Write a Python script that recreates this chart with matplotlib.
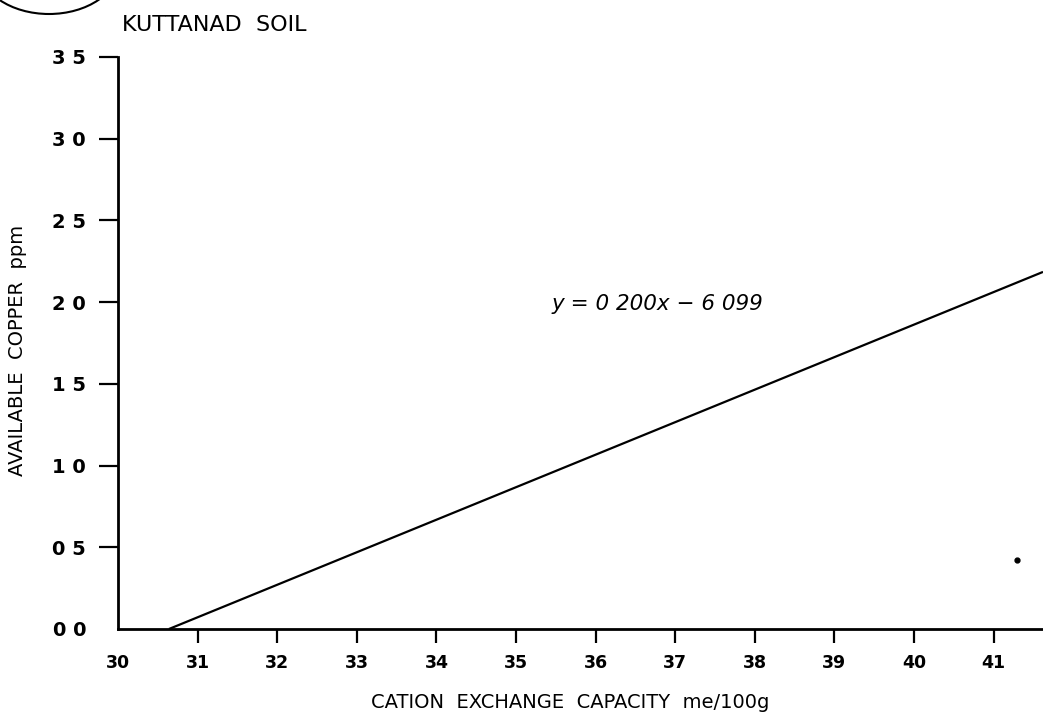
import matplotlib
matplotlib.use("Agg")
import matplotlib.pyplot as plt
from matplotlib.patches import Circle

# regression line end points (x = CEC, y = Cu ppm)
line_x = [30.64, 41.62]
line_y = [0.0, 2.185]

# the lone dot near the right edge
dot_x = [41.29]
dot_y = [0.42]

x_ticks = [30, 31, 32, 33, 34, 35, 36, 37, 38, 39, 40, 41]
x_labels = ["30", "31", "32", "33", "34", "35", "36", "37", "38", "39", "40", "41"]
y_ticks = [0.0, 0.5, 1.0, 1.5, 2.0, 2.5, 3.0, 3.5]
y_labels = ["0 0", "0 5", "1 0", "1 5", "2 0", "2 5", "3 0", "3 5"]

W, H = 1043, 716
fig = plt.figure(figsize=(W / 100, H / 100), dpi=100)
ax = fig.add_axes([118 / W, 1 - 629 / H, 1 - 118 / W, (629 - 57) / H])

ax.plot(line_x, line_y, color="black", lw=1.6, solid_capstyle="butt")
ax.plot(dot_x, dot_y, "o", color="black", ms=3.5)

ax.set_xlim(30, 41.62)
ax.set_ylim(0, 3.5)
for s in ["top", "right"]:
    ax.spines[s].set_visible(False)
for s in ["left", "bottom"]:
    ax.spines[s].set_linewidth(2.0)
    ax.spines[s].set_color("black")

ax.set_xticks(x_ticks)
ax.set_xticklabels(x_labels, fontsize=12.5, fontweight="bold")
ax.set_yticks(y_ticks)
ax.set_yticklabels(y_labels, fontsize=14, fontweight="bold")
ax.tick_params(axis="x", direction="out", length=10, width=1.6, pad=8)
ax.tick_params(axis="y", direction="out", length=14, width=1.6, pad=9)
ax.xaxis.get_major_ticks()[0].tick1line.set_visible(False)
ax.yaxis.get_major_ticks()[0].tick1line.set_visible(False)

ax.text(35.45, 1.99, "y = 0 200x − 6 099", fontsize=15.5, ha="left", va="center",
        style="italic")

fig.text(122 / W, 1 - 25 / H, "KUTTANAD  SOIL", fontsize=16, ha="left", va="center")
fig.text(570 / W, 1 - 702 / H, "CATION  EXCHANGE  CAPACITY  me/100g", fontsize=14,
         ha="center", va="center")
fig.text(18 / W, 1 - 350 / H, "AVAILABLE  COPPER  ppm", fontsize=14, rotation=90,
         ha="center", va="center")

# circled figure number, cut off at the top edge of the page
fig.add_artist(Circle((49 / W, 1 + 34 / H), 48 / H, transform=fig.transFigure,
                      fill=False, lw=1.5, color="black"))

fig.savefig("out.png", dpi=100)
